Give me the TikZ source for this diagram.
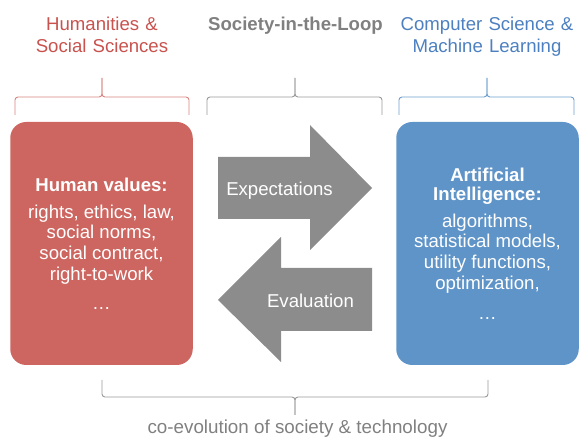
\documentclass[tikz,border=0pt]{standalone}
\usepackage{fontspec}
\setmainfont{Liberation Sans}
\definecolor{humred}{RGB}{205,102,96}
\definecolor{humtext}{RGB}{200,82,78}
\definecolor{mlblue}{RGB}{95,148,200}
\definecolor{mltext}{RGB}{76,128,192}
\definecolor{loopgray}{RGB}{128,128,128}
\definecolor{arrowgray}{RGB}{140,140,140}
\begin{document}
\begin{tikzpicture}[x=1pt,y=-1pt,
  heading/.style={text width=6.5cm, align=center, anchor=base, inner sep=0pt, font=\fontsize{18.6}{22}\selectfont},
  valuebox/.style={rounded corners=16pt, minimum width=182.5pt, minimum height=243pt, inner sep=0pt, text=white, align=center, font=\fontsize{18.6}{20.6}\selectfont},
  bracket/.style={line width=0.9pt, rounded corners=3pt},
  flow/.style={fill=arrowgray},
  flowtext/.style={text=white, anchor=base, inner sep=0pt, font=\fontsize{18.6}{20.6}\selectfont}]
\useasboundingbox (0,0) rectangle (579,438);
% titles
\node[heading, text=humtext](humanities)at(102,31){Humanities \&\\ Social Sciences};
\node[heading, text=loopgray](loop)at(295.5,31){\bfseries Society-in-the-Loop};
\node[heading, text=mltext](cs)at(487,31){Computer Science \&\\ Machine Learning};
% braces under the titles
\foreach \l/\r/\c/\col in {15/189/102/humred!80, 207/382/295/loopgray!80, 399/574/487/mlblue!90}{
  \draw[bracket, \col](\l,115) |- (\c,97) -- (\c,78);
  \draw[bracket, \col](\r,115) |- (\c,97) -- (\c,78);
}
% the two sides
\node[valuebox, fill=humred](values)at(101.5,243.5){\textbf{Human values:}\\[6.4pt] rights, ethics, law,\\ social norms,\\ social contract,\\ right-to-work\\[8.4pt] …};
\node[valuebox, fill=mlblue](ai)at(487.5,243.5){\textbf{Artificial}\\[-1.6pt] \textbf{Intelligence:}\\[6.4pt] algorithms,\\ statistical models,\\ utility functions,\\ optimization,\\[9.4pt] …};
% loop arrows
\fill[flow](218,157) -- (310,157) -- (310,125) -- (372,188) -- (310,250) -- (310,219) -- (218,219) -- cycle;
\node[flowtext](expect)at(279.5,196){Expectations};
\fill[flow](372,268) -- (281,268) -- (281,237) -- (218,300) -- (281,362) -- (281,331) -- (372,331) -- cycle;
\node[flowtext](evaluate)at(310.5,308){Evaluation};
% bottom brace
\draw[bracket, loopgray!80](102,380) |- (295,397) -- (295,415);
\draw[bracket, loopgray!80](488,380) |- (295,397) -- (295,415);
\node[anchor=base, inner sep=0pt, text=loopgray, font=\fontsize{18.8}{20}\selectfont](coevo)at(297.5,434){co-evolution of society \& technology};
\end{tikzpicture}
\end{document}
